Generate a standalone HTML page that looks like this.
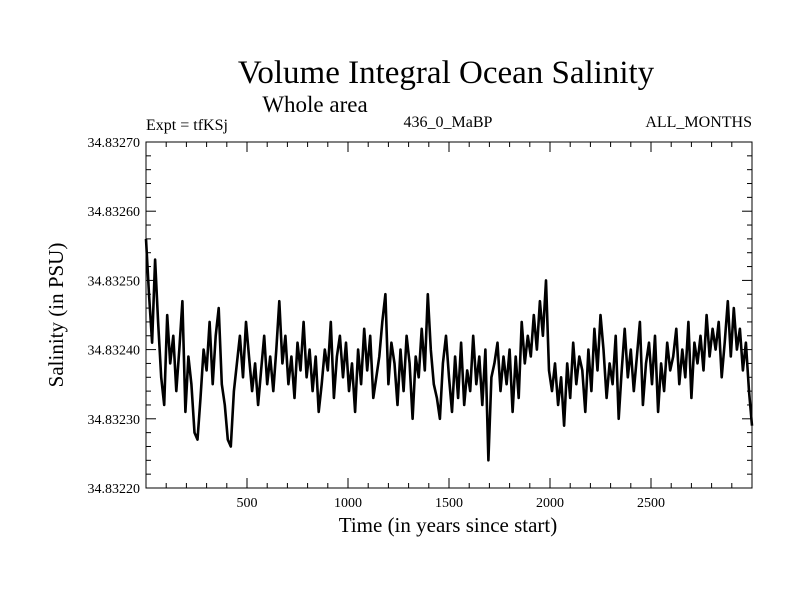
<!DOCTYPE html>
<html><head><meta charset="utf-8"><style>
body{margin:0;background:#fff;}
svg text{font-family:"Liberation Serif",serif;fill:#000;}
</style></head><body>
<svg id="chart" width="800" height="600" viewBox="0 0 800 600" xmlns="http://www.w3.org/2000/svg">
<rect width="800" height="600" fill="#fff"/>
<text x="446" y="83" font-size="33" text-anchor="middle">Volume Integral Ocean Salinity</text>
<text x="315" y="112" font-size="23" text-anchor="middle">Whole area</text>
<text x="146" y="130" font-size="16">Expt = tfKSj</text>
<text x="448" y="127" font-size="16" text-anchor="middle">436_0_MaBP</text>
<text x="752" y="127" font-size="16" text-anchor="end">ALL_MONTHS</text>
<text x="448" y="532" font-size="21" text-anchor="middle">Time (in years since start)</text>
<text transform="translate(63,315) rotate(-90)" font-size="21" text-anchor="middle">Salinity (in PSU)</text>
<g id="axes"></g>
<g id="series"></g>
</svg>
<script>
const yTickLabels=["34.83220","34.83230","34.83240","34.83250","34.83260","34.83270"];
const yTickValues=[0,10,20,30,40,50];
const xTickValues=[500,1000,1500,2000,2500];
const startYear=0, stepYears=15;
const salinityOffset=[36,28,21,33,24,16,12,25,18,22,14,20,27,11,19,15,8,7,13,20,
17,24,15,22,26,15,12,7,6,14,18,22,16,24,19,14,18,12,17,22,
15,19,14,20,27,18,22,15,19,13,21,17,24,16,20,14,19,11,15,20,
17,24,13,19,22,16,21,14,18,11,20,15,23,17,22,13,16,19,24,28,
15,21,18,12,20,14,22,18,10,19,16,23,17,28,20,15,13,10,18,22,
16,11,19,13,21,12,17,14,22,15,19,12,20,4,16,18,21,14,19,15,
20,11,19,13,24,18,22,19,25,20,27,22,30,17,14,18,12,16,9,18,
13,21,15,19,17,11,20,14,23,17,25,20,13,18,15,22,10,17,23,16,
20,14,19,24,12,18,21,15,22,11,18,14,21,17,19,23,15,20,16,24,
13,21,18,22,17,25,19,23,20,24,16,21,27,19,26,20,23,17,21,14,9];
const X0=146,X1=752,Y0=142,Y1=488,XMIN=0,XMAX=3000,YMIN=0,YMAX=50;
const xs=v=>X0+(v-XMIN)/(XMAX-XMIN)*(X1-X0);
const ys=v=>Y1-(v-YMIN)/(YMAX-YMIN)*(Y1-Y0);
const NS="http://www.w3.org/2000/svg";
const axes=document.getElementById('axes');
function mk(tag,attrs,parent){const e=document.createElementNS(NS,tag);for(const k in attrs)e.setAttribute(k,attrs[k]);parent.appendChild(e);return e;}
const frame=mk('rect',{x:X0,y:Y0,width:X1-X0,height:Y1-Y0,fill:'none',stroke:'#000','stroke-width':1},axes);


for(let t=100;t<XMAX;t+=100){
  const major=t%500===0,len=major?10:5,x=xs(t);
  const a=mk('line',{x1:x,x2:x,y1:Y1,y2:Y1-len,stroke:'#000'},axes);
  
  
  const b=mk('line',{x1:x,x2:x,y1:Y0,y2:Y0+len,stroke:'#000'},axes);
  
  
}
xTickValues.forEach(v=>{
  const t=mk('text',{x:xs(v),y:Y1+19,'font-size':14,'text-anchor':'middle'},axes);t.textContent=v;
  
  
});
for(let v=2;v<YMAX;v+=2){
  const major=v%10===0,len=major?10:5,y=ys(v);
  const a=mk('line',{x1:X0,x2:X0+len,y1:y,y2:y,stroke:'#000'},axes);
  
  
  const b=mk('line',{x1:X1,x2:X1-len,y1:y,y2:y,stroke:'#000'},axes);
  
  
}
yTickValues.forEach((v,i)=>{
  const t=mk('text',{x:X0-6,y:ys(v)+5,'font-size':14,'text-anchor':'end'},axes);t.textContent=yTickLabels[i];
  
  
});
const pts=salinityOffset.map((v,i)=>xs(startYear+i*stepYears).toFixed(1)+','+ys(v).toFixed(1)).join(' ');
const line=mk('polyline',{points:pts,fill:'none',stroke:'#000','stroke-width':2.6,'stroke-linejoin':'round'},document.getElementById('series'));


</script>
</body></html>
